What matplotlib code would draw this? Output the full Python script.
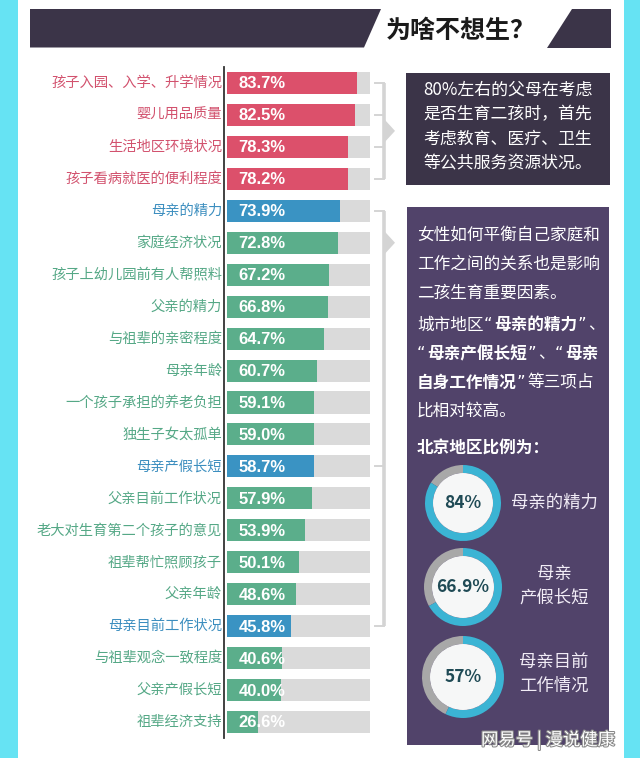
import matplotlib
matplotlib.use('Agg')
import matplotlib.pyplot as plt
from matplotlib.patches import Polygon, Rectangle, Wedge, Circle
from matplotlib.transforms import blended_transform_factory
import matplotlib.patheffects as pe
from matplotlib import font_manager as fm

# ---------------- data ----------------
categories = ['孩子入园、入学、升学情况', '婴儿用品质量', '生活地区环境状况', '孩子看病就医的便利程度',
              '母亲的精力', '家庭经济状况', '孩子上幼儿园前有人帮照料', '父亲的精力', '与祖辈的亲密程度',
              '母亲年龄', '一个孩子承担的养老负担', '独生子女太孤单', '母亲产假长短', '父亲目前工作状况',
              '老大对生育第二个孩子的意见', '祖辈帮忙照顾孩子', '父亲年龄', '母亲目前工作状况',
              '与祖辈观念一致程度', '父亲产假长短', '祖辈经济支持']
values = [83.7, 82.5, 78.3, 78.2, 73.9, 72.8, 67.2, 66.8, 64.7, 60.7, 59.1, 59.0, 58.7, 57.9,
          53.9, 50.1, 48.6, 45.8, 40.6, 40.0, 26.6]
groups = ['r', 'r', 'r', 'r', 'b', 'g', 'g', 'g', 'g', 'g', 'g', 'g', 'b', 'g',
          'g', 'g', 'g', 'b', 'g', 'g', 'g']
title = '为啥不想生？'
note1_lines = ['80%左右的父母在考虑', '是否生育二孩时，首先', '考虑教育、医疗、卫生', '等公共服务资源状况。']
note2_lines = [
    [('女性如何平衡自己家庭和', False)],
    [('工作之间的关系也是影响', False)],
    [('二孩生育重要因素。', False)],
    [('城市地区“', False), ('母亲的精力', True), ('”、', False)],
    [('“', False), ('母亲产假长短', True), ('”、“', False), ('母亲', True)],
    [('自身工作情况', True), ('”等三项占', False)],
    [('比相对较高。', False)],
    [('北京地区比例为：', True)],
]
donut_values = [84, 66.9, 57]
donut_texts = ['84%', '66.9%', '57%']
donut_labels = [['母亲的精力'], ['母亲', '产假长短'], ['母亲目前', '工作情况']]
watermark = '网易号 | 漫说健康'

# ---------------- style ----------------
W, H = 640, 758
CJK = ['Noto Sans CJK SC', 'DejaVu Sans']
bar_col = {'r': '#DC506B', 'b': '#3A93C3', 'g': '#5BAE8B'}
lab_col = {'r': '#D2526E', 'b': '#3C8EBF', 'g': '#55A886'}
TRACK = '#DADADA'
CYAN = '#66E3F3'
DARK = '#3B3448'
PURPLE = '#51436A'
RING_BLUE = '#3BB4D4'
RING_GRAY = '#A8A8A8'

names = {f.name for f in fm.fontManager.ttflist}
if 'Liberation Sans Narrow' in names:
    NUMFONT = dict(family='Liberation Sans Narrow', fontweight='bold', fontsize=14)
else:
    NUMFONT = dict(family='Liberation Sans', fontweight='bold', fontsize=12)

fig = plt.figure(figsize=(W / 100, H / 100), dpi=100)
fig.patch.set_facecolor('white')

# overlay axes in pixel units (y downwards)
bg = fig.add_axes([0, 0, 1, 1])
bg.set_xlim(0, W)
bg.set_ylim(H, 0)
bg.axis('off')

# cyan side strips
bg.add_patch(Rectangle((0, 0), 17.5, H, color=CYAN, lw=0))
bg.add_patch(Rectangle((624, 0), W - 624, H, color=CYAN, lw=0))

# header
bg.add_patch(Polygon([(30, 9), (381, 9), (364, 47.5), (30, 47.5)], closed=True, color=DARK, lw=0))
bg.add_patch(Polygon([(572, 9), (611, 9), (611, 47.5), (547, 47.5)], closed=True, color=DARK, lw=0))
bg.text(461, 31, title, ha='center', va='center', fontsize=18, fontweight='bold',
        color='#1A1A1A', family=CJK)

# ---------------- bar chart ----------------
top_px, bot_px = 67, 738
left_px, right_px = 227, 370
x0_px, px_per_unit = 212, 1.734
ax = fig.add_axes([left_px / W, 1 - bot_px / H, (right_px - left_px) / W, (bot_px - top_px) / H])
ax.patch.set_visible(False)
n = len(categories)
xmin = (left_px - x0_px) / px_per_unit
xmax = (right_px - x0_px) / px_per_unit
ax.set_xlim(xmin, xmax)
ax.set_ylim(n - 0.5, -0.5)
ax.axis('off')
rows = list(range(n))
ax.barh(rows, [xmax] * n, height=0.69, color=TRACK, lw=0, zorder=1)
ax.barh(rows, values, height=0.69, color=[bar_col[g] for g in groups], lw=0, zorder=2)
tr = blended_transform_factory(ax.transAxes, ax.transData)
for i, (c, v, g) in enumerate(zip(categories, values, groups)):
    ax.text(-0.035, i, c, transform=tr, ha='right', va='center', fontsize=10.3, fontweight=300,
            color=lab_col[g], family=CJK)
    ax.text(0.08, i + 0.03, f'{v:.1f}%', transform=tr, ha='left', va='center', color='white',
            zorder=3, **NUMFONT)

# axis line
row_h = (bot_px - top_px) / n
def row_y(i):
    return top_px + row_h * (i + 0.5)
bg.plot([224, 224], [top_px, bot_px], color='#333333', lw=1.3, zorder=2)

# brackets
BR = '#D4D4D4'
def bracket(r0, r1, ticks, tri_row):
    ya, yb = row_y(r0), row_y(r1)
    bg.plot([384, 384], [ya, yb], color=BR, lw=2.6, solid_capstyle='butt', zorder=2)
    for t in ticks:
        bg.plot([375, 384], [row_y(t), row_y(t)], color=BR, lw=1.4, zorder=2)
    yc = row_y(tri_row)
    bg.add_patch(Polygon([(384, yc - 12), (395, yc), (384, yc + 12)], closed=True, color=BR, lw=0))
bracket(0, 3, [0, 1, 2, 3], 1.5)
bracket(4, 17, [4, 12, 17], 5)

# ---------------- note box 1 ----------------
bg.add_patch(Rectangle((406, 73), 204, 112, color=DARK, lw=0))
for k, line in enumerate(note1_lines):
    bg.text(423, 90 + 24.5 * k, line, ha='left', va='center', fontsize=12.2, color='white', family=CJK)

# ---------------- note box 2 ----------------
bg.add_patch(Rectangle((407, 207), 202, 538, color=PURPLE, lw=0))
renderer = fig.canvas.get_renderer()
line_y = [235, 264, 293, 325, 354, 383, 411, 449]
QUOTES = '“”'
def split_quotes(s):
    parts, cur = [], ''
    for ch in s:
        if ch in QUOTES:
            if cur:
                parts.append((cur, False))
                cur = ''
            parts.append((ch, True))
        else:
            cur += ch
    if cur:
        parts.append((cur, False))
    return parts
for runs, y in zip(note2_lines, line_y):
    x = 417
    for txt, bold in runs:
        for piece, is_q in split_quotes(txt):
            fam = ['DejaVu Sans'] if is_q else CJK
            t = bg.text(x, y, piece, ha='left', va='center', fontsize=12, color='white', family=fam,
                        fontweight='bold' if bold else 'normal')
            bb = t.get_window_extent(renderer=renderer)
            x += bb.width + (2 if is_q else 0)

# donuts
centers = [(463, 503, 38), (463, 587, 39), (463, 677, 41)]
label_y = [[503], [574, 598], [662, 686]]
for (cx, cy, r), v, s, labs, ly in zip(centers, donut_values, donut_texts, donut_labels, label_y):
    ang = -90 + 360 * v / 100
    bg.add_patch(Wedge((cx, cy), r, ang, 270, width=8, color=RING_GRAY, lw=0))
    bg.add_patch(Wedge((cx, cy), r, -90, ang, width=8, color=RING_BLUE, lw=0))
    bg.add_patch(Circle((cx, cy), r - 8, color='#F6F7F7', lw=0))
    bg.text(cx, cy, s, ha='center', va='center', fontsize=12.5, fontweight='bold',
            color='#1F4A55', family=CJK)
    for lab, yy in zip(labs, ly):
        bg.text(554, yy, lab, ha='center', va='center', fontsize=12.5, color='#F1ECF6', family=CJK)

# watermark
bg.text(548, 740, watermark, ha='center', va='center', fontsize=12.5, color='white', family=CJK,
        path_effects=[pe.withStroke(linewidth=1.5, foreground='#888888')])

fig.savefig('out.png', dpi=100, facecolor='white')
